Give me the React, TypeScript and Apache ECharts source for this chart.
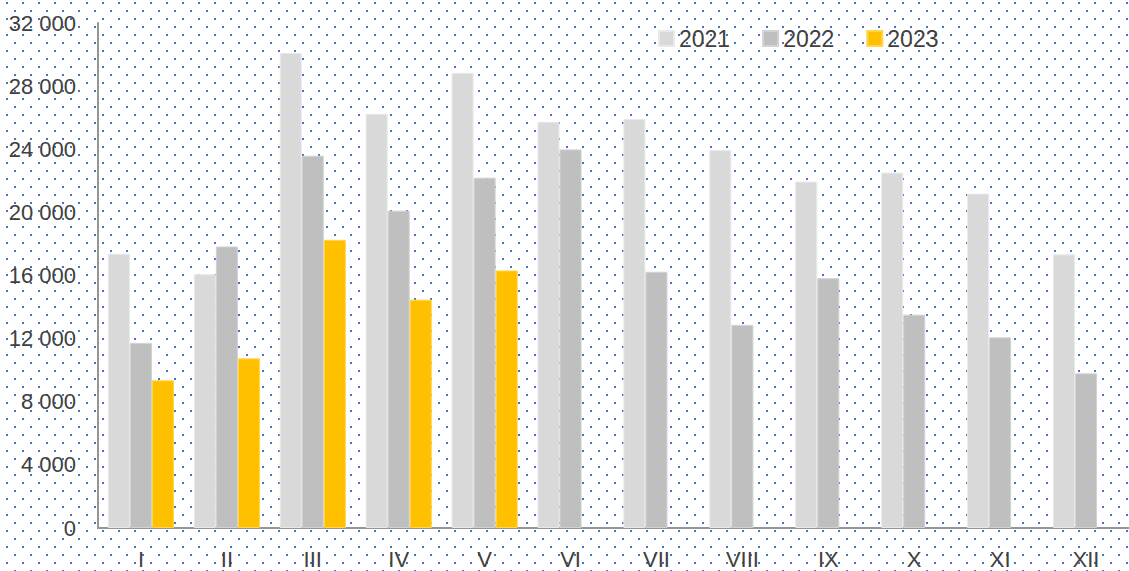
import React, { useEffect, useRef } from "react";
import * as echarts from "echarts";

const months = ["I", "II", "III", "IV", "V", "VI", "VII", "VIII", "IX", "X", "XI", "XII"];
const seriesNames = ["2021", "2022", "2023"];
const values2021 = [17380, 16080, 30100, 26250, 28840, 25740, 25910, 23950, 21950, 22520, 21190, 17340];
const values2022 = [11730, 17840, 23590, 20110, 22200, 23990, 16240, 12870, 15830, 13520, 12080, 9800];
const values2023 = [9360, 10750, 18260, 14470, 16320];
const colors = ["#d9d9d9", "#bfbfbf", "#ffc000"];
const borderColors = ["#e9e9e9", "#d2d2d2", "#ffd54f"];

const yMin = 0;
const yMax = 32000;
const yInterval = 4000;

const fmt = (v: number) => String(v).replace(/\B(?=(\d{3})+(?!\d))/g, " ");

const dotTile =
  "url(\"data:image/svg+xml;utf8," +
  encodeURIComponent(
    "<svg xmlns='http://www.w3.org/2000/svg' width='16' height='16' shape-rendering='crispEdges'>" +
      "<rect x='6' y='2' width='2' height='2' fill='#4472c4'/>" +
      "<rect x='14' y='10' width='2' height='2' fill='#4472c4'/>" +
      "</svg>"
  ) +
  "\")";

export default function App() {
  const ref = useRef<HTMLDivElement>(null);

  useEffect(() => {
    if (!ref.current) return;
    const chart = echarts.init(ref.current, null, { renderer: "svg" });
    const font = "'Liberation Sans', Arial, sans-serif";
    const data = [values2021, values2022, values2023];
    chart.setOption({
      animation: false,
      backgroundColor: "transparent",
      textStyle: { fontFamily: font },
      legend: {
        left: 653,
        top: 22,
        itemWidth: 15,
        itemHeight: 15,
        itemGap: 32,
        icon: "rect",
        data: seriesNames,
        textStyle: { fontSize: 23, color: "#404040", fontFamily: font },
      },
      grid: { left: 98, top: 23, bottom: 43, right: -12, containLabel: false },
      xAxis: {
        type: "category",
        data: months,
        axisLine: { show: true, lineStyle: { color: "#969696", width: 2 } },
        axisTick: { show: false },
        axisLabel: { fontSize: 22, color: "#404040", margin: 20, fontFamily: font },
      },
      yAxis: {
        type: "value",
        min: yMin,
        max: yMax,
        interval: yInterval,
        axisLine: { show: true, lineStyle: { color: "#969696", width: 2 } },
        axisTick: { show: false },
        splitLine: { show: false },
        axisLabel: {
          fontSize: 22,
          color: "#404040",
          margin: 22,
          fontFamily: font,
          formatter: (v: number) => fmt(v),
        },
      },
      series: seriesNames.map((name, i) => ({
        name,
        type: "bar",
        data: data[i],
        barGap: "0%",
        barCategoryGap: "23%",
        itemStyle: { color: colors[i], borderColor: borderColors[i], borderWidth: 1 },
      })),
    });
    return () => chart.dispose();
  }, []);

  return (
    <div
      style={{
        position: "fixed",
        left: 0,
        top: 0,
        width: 1129,
        height: 571,
        backgroundColor: "#ffffff",
        backgroundImage: dotTile,
        backgroundRepeat: "repeat",
        backgroundPosition: "0px 0px",
        overflow: "hidden",
      }}
    >
      <div ref={ref} style={{ width: 1129, height: 571 }} />
    </div>
  );
}
